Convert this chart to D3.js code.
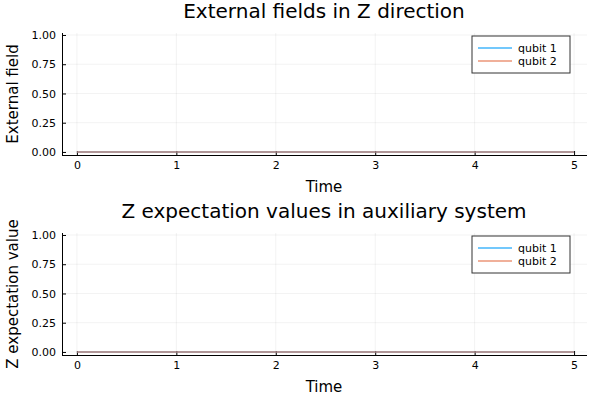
<!DOCTYPE html>
<html><head><meta charset="utf-8">
<script src="https://cdn.jsdelivr.net/npm/d3@7"></script>
<style>body{margin:0;background:#fff}svg{font-family:"DejaVu Sans",sans-serif}</style>
</head><body><div id="chart"></div>
<script>
const times = [0, 1, 2, 3, 4, 5]
const fieldQ1 = [0, 0, 0, 0, 0, 0]
const fieldQ2 = [0, 0, 0, 0, 0, 0]
const expQ1 = [0, 0, 0, 0, 0, 0]
const expQ2 = [0, 0, 0, 0, 0, 0]
const seriesNames = ['qubit 1', 'qubit 2']
const colors = ['#009afa', '#e36f47']
const xTicks = [0, 1, 2, 3, 4, 5]
const yTicks = [0, 0.25, 0.5, 0.75, 1]

const svg = d3.select('#chart').append('svg').attr('width', 600).attr('height', 400)

function panel(top, title, ylabel, series) {
    const L = 62, R = 587, T = top, B = top + 122
    const x = d3.scaleLinear().domain([-0.15, 5.13]).range([L, R])
    const y = d3.scaleLinear().domain([-0.026, 1.017]).range([B, T])
    const g = svg.append('g')

    // grid
    g.selectAll('.gx').data(xTicks).enter().append('line')
        .attr('x1', d => x(d)).attr('x2', d => x(d)).attr('y1', T).attr('y2', B)
        .attr('stroke', '#000').attr('stroke-opacity', 0.1).attr('stroke-width', 0.5)
    g.selectAll('.gy').data(yTicks).enter().append('line')
        .attr('y1', d => y(d)).attr('y2', d => y(d)).attr('x1', L).attr('x2', R)
        .attr('stroke', '#000').attr('stroke-opacity', 0.1).attr('stroke-width', 0.5)

    const xAxis = g.append('g').attr('transform', `translate(0,${B})`)
        .call(d3.axisBottom(x).tickValues(xTicks).tickSize(-4).tickPadding(6).tickFormat(d3.format('d')))
    xAxis.select('.domain').attr('d', `M${L},0.5H${R}`)
    const yAxis = g.append('g').attr('transform', `translate(${L},0)`)
        .call(d3.axisLeft(y).tickValues(yTicks).tickSize(-4).tickPadding(6).tickFormat(d3.format('.2f')))
    yAxis.select('.domain').attr('d', `M0.5,${T}V${B}`)
    g.selectAll('.tick text').attr('font-size', 11).attr('fill', '#000').attr('font-family', 'DejaVu Sans')
    g.selectAll('.domain').attr('stroke', '#000')

    const line = d3.line().x((d, i) => x(times[i])).y(d => y(d))
    series.forEach((s, i) => {
        g.append('path').datum(s).attr('d', line).attr('fill', 'none')
            .attr('stroke', colors[i]).attr('stroke-opacity', 0.55).attr('stroke-width', 2)
    })

    g.append('text').attr('x', 324).attr('y', top - 15).attr('text-anchor', 'middle')
        .attr('font-size', 20).text(title)
    g.append('text').attr('x', 324).attr('y', B + 37).attr('text-anchor', 'middle')
        .attr('font-size', 15).text('Time')
    g.append('text').attr('transform', `translate(18,${(T + B) / 2}) rotate(-90)`)
        .attr('text-anchor', 'middle').attr('font-size', 15).text(ylabel)

    // legend
    const lg = g.append('g').attr('transform', `translate(472,${T + 3})`)
    lg.append('rect').attr('width', 98).attr('height', 37).attr('fill', '#fff')
        .attr('stroke', '#333').attr('stroke-width', 1)
    seriesNames.forEach((n, i) => {
        const yy = 12 + i * 13
        lg.append('line').attr('x1', 6).attr('x2', 40).attr('y1', yy).attr('y2', yy)
            .attr('stroke', colors[i]).attr('stroke-opacity', 0.55).attr('stroke-width', 2)
        lg.append('text').attr('x', 46).attr('y', yy + 4).attr('font-size', 11).text(n)
    })
}

panel(33, 'External fields in Z direction', 'External field', [fieldQ1, fieldQ2])
panel(233, 'Z expectation values in auxiliary system', 'Z expectation value', [expQ1, expQ2])
</script></body></html>
